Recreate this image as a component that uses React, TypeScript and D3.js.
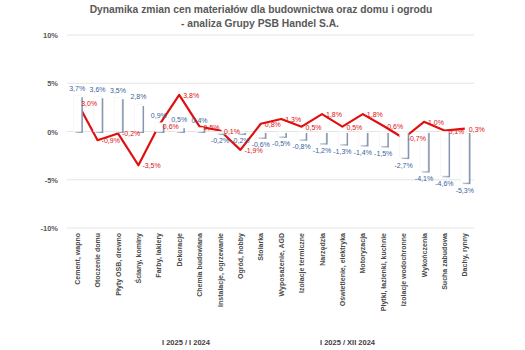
import React from 'react';
import * as d3 from 'd3';

const categories = [
  'Cement, wapno', 'Otoczenie domu', 'Płyty OSB, drewno', 'Ściany, kominy', 'Farby, lakiery',
  'Dekoracje', 'Chemia budowlana', 'Instalacje, ogrzewanie', 'Ogród, hobby', 'Stolarka',
  'Wyposażenie, AGD', 'Izolacje termiczne', 'Narzędzia', 'Oświetlenie, elektryka', 'Motoryzacja',
  'Płytki, łazienki, kuchnie', 'Izolacje wodochronne', 'Wykończenia', 'Sucha zabudowa', 'Dachy, rynny'
];
// I 2025 / I 2024 (bars)
const yearOverYear = [3.7, 3.6, 3.5, 2.8, 0.9, 0.5, 0.4, -0.2, -0.2, -0.6, -0.5, -0.8, -1.2, -1.3, -1.4, -1.5, -2.7, -4.1, -4.6, -5.3];
// I 2025 / XII 2024 (line)
const monthOverMonth = [3.0, -0.9, -0.2, -3.5, 0.6, 3.8, 0.5, 0.1, -1.9, 0.8, 1.3, 0.5, 1.8, 0.5, 1.8, 0.6, -0.7, 1.0, 0.1, 0.3];
const yTicks = [-10, -5, 0, 5, 10];
const seriesNames = ['I 2025 / I 2024', 'I 2025 / XII 2024'];

const width = 525;
const height = 350;
const font = '"Liberation Sans", Arial, sans-serif';
const fmt = (v: number) => v.toFixed(1).replace('.', ',') + '%';

export default function App() {
  const x = d3.scaleBand<string>().domain(categories).range([67, 475]).padding(0);
  const y = d3.scaleLinear().domain([-10, 10]).range([228, 35]);
  const cx = (i: number) => (x(categories[i]) as number) + x.bandwidth() / 2;
  const barW = x.bandwidth() * 0.38;

  const line = d3.line<number>()
    .x((d, i) => cx(i))
    .y((d) => y(d));

  return (
    <svg width={width} height={height} style={{ position: 'absolute', left: 0, top: 0, background: '#fff' }}>
      <defs>
        <linearGradient id="shadow" x1="0" x2="1" y1="0" y2="0">
          <stop offset="0" stopColor="#c3cddd" />
          <stop offset="1" stopColor="#7f90ad" />
        </linearGradient>
      </defs>
      <text x={261} y={13} textAnchor="middle" fontFamily={font} fontWeight="bold" fontSize={10.3} fill="#595959">
        Dynamika zmian cen materiałów dla budownictwa oraz domu i ogrodu
      </text>
      <text x={260} y={27} textAnchor="middle" fontFamily={font} fontWeight="bold" fontSize={10.3} fill="#595959">
        - analiza Grupy PSB Handel S.A.
      </text>

      {yTicks.map((t) => (
        <g key={t}>
          <line x1={67} x2={474} y1={y(t)} y2={y(t)} stroke="#e4e4e4" strokeWidth={1} />
          <text x={58} y={y(t) + 3} textAnchor="end" fontFamily={font} fontWeight="bold" fontSize={7.5} fill="#595959">
            {t + '%'}
          </text>
        </g>
      ))}

      <path d={line(monthOverMonth) || ''} fill="none" stroke="#e01010" strokeWidth={2.2} strokeLinejoin="round" />

      {yearOverYear.map((v, i) => {
        const top = Math.min(y(v), y(0));
        const h = Math.abs(y(v) - y(0));
        return (
          <g key={i}>
            <rect x={cx(i) - barW / 2 + 1.8} y={top + 1.5} width={barW} height={h} fill="url(#shadow)" />
            <rect x={cx(i) - barW / 2} y={top} width={barW} height={h} fill="#fff" stroke="#f0f0f0" strokeWidth={0.5} />
          </g>
        );
      })}

      {yearOverYear.map((v, i) => (
        <text key={'b' + i} x={cx(i)} y={v >= 0 ? y(v) - 5 : y(v) + 10} textAnchor="middle"
          fontFamily={font} fontSize={7} fill="#3a5f9e">
          {fmt(v)}
        </text>
      ))}

      {monthOverMonth.map((v, i) => (
        <text key={'l' + i} x={cx(i) + 4} y={y(v) + 3} textAnchor="start"
          fontFamily={font} fontSize={7} fill="#e01010">
          {fmt(v)}
        </text>
      ))}

      {categories.map((c, i) => (
        <text key={c} transform={`translate(${cx(i) + 2.5},233) rotate(-90)`} textAnchor="end"
          fontFamily={font} fontWeight="bold" fontSize={7} fill="#4a4a4a">
          {c}
        </text>
      ))}

      <text x={162} y={345} fontFamily={font} fontWeight="bold" fontSize={7.5} fill="#404040">{seriesNames[0]}</text>
      <text x={320} y={345} fontFamily={font} fontWeight="bold" fontSize={7.5} fill="#404040">{seriesNames[1]}</text>
    </svg>
  );
}
